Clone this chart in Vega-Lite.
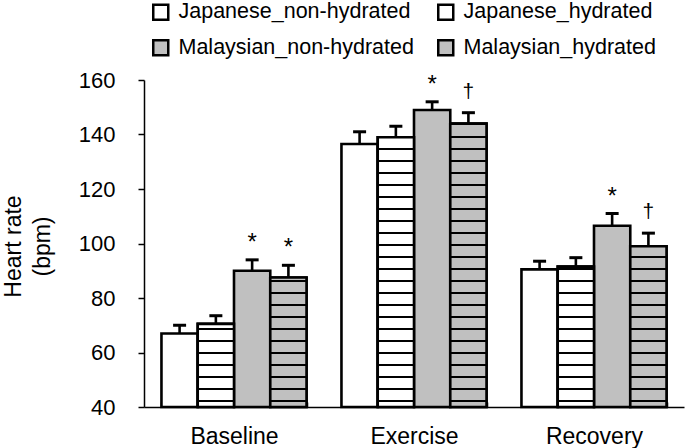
{
  "$schema": "https://vega.github.io/schema/vega-lite/v6.json",
  "width": 540,
  "height": 327,
  "autosize": "none",
  "padding": {"left": 144, "top": 80, "right": 1, "bottom": 41},
  "config": {
    "view": {"stroke": null},
    "font": "Liberation Sans",
    "axis": {"domainColor": "black", "tickColor": "black", "labelColor": "black", "titleColor": "black", "grid": false, "domainWidth": 1.5, "tickWidth": 1.5}
  },
  "data": {
    "values": [
      {"phase": "Baseline", "group": "Japanese_non-hydrated", "value": 67, "hi": 70, "sig": ""},
      {"phase": "Baseline", "group": "Japanese_hydrated", "value": 70.5, "hi": 73.5, "sig": ""},
      {"phase": "Baseline", "group": "Malaysian_non-hydrated", "value": 90, "hi": 94, "sig": "*"},
      {"phase": "Baseline", "group": "Malaysian_hydrated", "value": 87.5, "hi": 92, "sig": "*"},
      {"phase": "Exercise", "group": "Japanese_non-hydrated", "value": 136.5, "hi": 141, "sig": ""},
      {"phase": "Exercise", "group": "Japanese_hydrated", "value": 139, "hi": 143, "sig": ""},
      {"phase": "Exercise", "group": "Malaysian_non-hydrated", "value": 149, "hi": 152, "sig": "*"},
      {"phase": "Exercise", "group": "Malaysian_hydrated", "value": 144, "hi": 148, "sig": "†"},
      {"phase": "Recovery", "group": "Japanese_non-hydrated", "value": 90.5, "hi": 93.5, "sig": ""},
      {"phase": "Recovery", "group": "Japanese_hydrated", "value": 91.5, "hi": 94.8, "sig": ""},
      {"phase": "Recovery", "group": "Malaysian_non-hydrated", "value": 106.5, "hi": 111, "sig": "*"},
      {"phase": "Recovery", "group": "Malaysian_hydrated", "value": 99, "hi": 103.8, "sig": "†"}
    ]
  },
  "encoding": {
    "x": {
      "field": "phase", "type": "nominal", "sort": ["Baseline", "Exercise", "Recovery"],
      "scale": {"paddingInner": 0.194, "paddingOuter": 0.097},
      "axis": {"title": null, "labelAngle": 0, "labelFontSize": 23, "tickBand": "extent", "tickSize": -5, "labelPadding": 23}
    },
    "xOffset": {
      "field": "group", "type": "nominal",
      "sort": ["Japanese_non-hydrated", "Japanese_hydrated", "Malaysian_non-hydrated", "Malaysian_hydrated"],
      "scale": {"paddingInner": 0, "paddingOuter": 0}
    }
  },
  "layer": [
    {
      "mark": {"type": "bar", "stroke": "black", "strokeWidth": 2.6},
      "encoding": {
        "y": {
          "field": "value", "type": "quantitative",
          "scale": {"domain": [40, 160], "nice": false, "zero": false},
          "axis": {
            "values": [40, 60, 80, 100, 120, 140, 160], "tickSize": 6, "labelPadding": 23, "labelFontSize": 22,
            "title": ["Heart rate", "(bpm)"], "titleFontSize": 23, "titleFontWeight": "normal",
            "titleAngle": -90, "titleAlign": "center", "titleBaseline": "middle", "titleLineHeight": 29,
            "titleX": -131, "titleY": 166
          }
        },
        "y2": {"datum": 40},
        "fill": {
          "field": "group", "type": "nominal",
          "scale": {
            "domain": ["Japanese_non-hydrated", "Malaysian_non-hydrated", "Japanese_hydrated", "Malaysian_hydrated"],
            "range": ["#ffffff", "#c0c0c0", "#ffffff", "#c0c0c0"]
          },
          "legend": {
            "title": null, "orient": "none", "legendX": 6, "legendY": -79, "columns": 2,
            "columnPadding": 19, "rowPadding": 10, "symbolType": "square", "symbolSize": 225,
            "symbolStrokeColor": "black", "symbolStrokeWidth": 2.5, "symbolOpacity": 1,
            "labelFontSize": 21.5, "labelColor": "black", "labelOffset": 7, "labelLimit": 400
          }
        }
      }
    },
    {
      "transform": [{"filter": "datum.phase == 'Baseline' && datum.group == 'Japanese_hydrated'"}],
      "mark": {"type": "bar", "stroke": "black", "strokeWidth": 2.6,
        "fill": {"gradient": "linear", "x1": 0, "y1": 0, "x2": 0, "y2": 1, "stops": [
          {"offset": 0, "color": "#ffffff"},
          {"offset": 0.0471, "color": "#ffffff"}, {"offset": 0.0471, "color": "#000000"}, {"offset": 0.0759, "color": "#000000"}, {"offset": 0.0759, "color": "#ffffff"},
          {"offset": 0.1915, "color": "#ffffff"}, {"offset": 0.1915, "color": "#000000"}, {"offset": 0.2203, "color": "#000000"}, {"offset": 0.2203, "color": "#ffffff"},
          {"offset": 0.3359, "color": "#ffffff"}, {"offset": 0.3359, "color": "#000000"}, {"offset": 0.3647, "color": "#000000"}, {"offset": 0.3647, "color": "#ffffff"},
          {"offset": 0.4803, "color": "#ffffff"}, {"offset": 0.4803, "color": "#000000"}, {"offset": 0.5091, "color": "#000000"}, {"offset": 0.5091, "color": "#ffffff"},
          {"offset": 0.6247, "color": "#ffffff"}, {"offset": 0.6247, "color": "#000000"}, {"offset": 0.6535, "color": "#000000"}, {"offset": 0.6535, "color": "#ffffff"},
          {"offset": 0.7690, "color": "#ffffff"}, {"offset": 0.7690, "color": "#000000"}, {"offset": 0.7978, "color": "#000000"}, {"offset": 0.7978, "color": "#ffffff"},
          {"offset": 0.9134, "color": "#ffffff"}, {"offset": 0.9134, "color": "#000000"}, {"offset": 0.9422, "color": "#000000"}, {"offset": 0.9422, "color": "#ffffff"},
          {"offset": 1, "color": "#ffffff"}
        ]}},
      "encoding": {"y": {"field": "value", "type": "quantitative"}, "y2": {"datum": 40}}
    },
    {
      "transform": [{"filter": "datum.phase == 'Baseline' && datum.group == 'Malaysian_hydrated'"}],
      "mark": {"type": "bar", "stroke": "black", "strokeWidth": 2.6,
        "fill": {"gradient": "linear", "x1": 0, "y1": 0, "x2": 0, "y2": 1, "stops": [
          {"offset": 0, "color": "#c0c0c0"},
          {"offset": 0.0173, "color": "#c0c0c0"}, {"offset": 0.0173, "color": "#000000"}, {"offset": 0.0358, "color": "#000000"}, {"offset": 0.0358, "color": "#c0c0c0"},
          {"offset": 0.1100, "color": "#c0c0c0"}, {"offset": 0.1100, "color": "#000000"}, {"offset": 0.1286, "color": "#000000"}, {"offset": 0.1286, "color": "#c0c0c0"},
          {"offset": 0.2027, "color": "#c0c0c0"}, {"offset": 0.2027, "color": "#000000"}, {"offset": 0.2213, "color": "#000000"}, {"offset": 0.2213, "color": "#c0c0c0"},
          {"offset": 0.2954, "color": "#c0c0c0"}, {"offset": 0.2954, "color": "#000000"}, {"offset": 0.3140, "color": "#000000"}, {"offset": 0.3140, "color": "#c0c0c0"},
          {"offset": 0.3881, "color": "#c0c0c0"}, {"offset": 0.3881, "color": "#000000"}, {"offset": 0.4067, "color": "#000000"}, {"offset": 0.4067, "color": "#c0c0c0"},
          {"offset": 0.4808, "color": "#c0c0c0"}, {"offset": 0.4808, "color": "#000000"}, {"offset": 0.4994, "color": "#000000"}, {"offset": 0.4994, "color": "#c0c0c0"},
          {"offset": 0.5735, "color": "#c0c0c0"}, {"offset": 0.5735, "color": "#000000"}, {"offset": 0.5921, "color": "#000000"}, {"offset": 0.5921, "color": "#c0c0c0"},
          {"offset": 0.6663, "color": "#c0c0c0"}, {"offset": 0.6663, "color": "#000000"}, {"offset": 0.6848, "color": "#000000"}, {"offset": 0.6848, "color": "#c0c0c0"},
          {"offset": 0.7590, "color": "#c0c0c0"}, {"offset": 0.7590, "color": "#000000"}, {"offset": 0.7775, "color": "#000000"}, {"offset": 0.7775, "color": "#c0c0c0"},
          {"offset": 0.8517, "color": "#c0c0c0"}, {"offset": 0.8517, "color": "#000000"}, {"offset": 0.8702, "color": "#000000"}, {"offset": 0.8702, "color": "#c0c0c0"},
          {"offset": 0.9444, "color": "#c0c0c0"}, {"offset": 0.9444, "color": "#000000"}, {"offset": 0.9629, "color": "#000000"}, {"offset": 0.9629, "color": "#c0c0c0"},
          {"offset": 1, "color": "#c0c0c0"}
        ]}},
      "encoding": {"y": {"field": "value", "type": "quantitative"}, "y2": {"datum": 40}}
    },
    {
      "transform": [{"filter": "datum.phase == 'Exercise' && datum.group == 'Japanese_hydrated'"}],
      "mark": {"type": "bar", "stroke": "black", "strokeWidth": 2.6,
        "fill": {"gradient": "linear", "x1": 0, "y1": 0, "x2": 0, "y2": 1, "stops": [
          {"offset": 0, "color": "#ffffff"},
          {"offset": 0.0392, "color": "#ffffff"}, {"offset": 0.0392, "color": "#000000"}, {"offset": 0.0481, "color": "#000000"}, {"offset": 0.0481, "color": "#ffffff"},
          {"offset": 0.0837, "color": "#ffffff"}, {"offset": 0.0837, "color": "#000000"}, {"offset": 0.0926, "color": "#000000"}, {"offset": 0.0926, "color": "#ffffff"},
          {"offset": 0.1282, "color": "#ffffff"}, {"offset": 0.1282, "color": "#000000"}, {"offset": 0.1371, "color": "#000000"}, {"offset": 0.1371, "color": "#ffffff"},
          {"offset": 0.1727, "color": "#ffffff"}, {"offset": 0.1727, "color": "#000000"}, {"offset": 0.1815, "color": "#000000"}, {"offset": 0.1815, "color": "#ffffff"},
          {"offset": 0.2171, "color": "#ffffff"}, {"offset": 0.2171, "color": "#000000"}, {"offset": 0.2260, "color": "#000000"}, {"offset": 0.2260, "color": "#ffffff"},
          {"offset": 0.2616, "color": "#ffffff"}, {"offset": 0.2616, "color": "#000000"}, {"offset": 0.2705, "color": "#000000"}, {"offset": 0.2705, "color": "#ffffff"},
          {"offset": 0.3061, "color": "#ffffff"}, {"offset": 0.3061, "color": "#000000"}, {"offset": 0.3150, "color": "#000000"}, {"offset": 0.3150, "color": "#ffffff"},
          {"offset": 0.3506, "color": "#ffffff"}, {"offset": 0.3506, "color": "#000000"}, {"offset": 0.3595, "color": "#000000"}, {"offset": 0.3595, "color": "#ffffff"},
          {"offset": 0.3951, "color": "#ffffff"}, {"offset": 0.3951, "color": "#000000"}, {"offset": 0.4040, "color": "#000000"}, {"offset": 0.4040, "color": "#ffffff"},
          {"offset": 0.4395, "color": "#ffffff"}, {"offset": 0.4395, "color": "#000000"}, {"offset": 0.4484, "color": "#000000"}, {"offset": 0.4484, "color": "#ffffff"},
          {"offset": 0.4840, "color": "#ffffff"}, {"offset": 0.4840, "color": "#000000"}, {"offset": 0.4929, "color": "#000000"}, {"offset": 0.4929, "color": "#ffffff"},
          {"offset": 0.5285, "color": "#ffffff"}, {"offset": 0.5285, "color": "#000000"}, {"offset": 0.5374, "color": "#000000"}, {"offset": 0.5374, "color": "#ffffff"},
          {"offset": 0.5730, "color": "#ffffff"}, {"offset": 0.5730, "color": "#000000"}, {"offset": 0.5819, "color": "#000000"}, {"offset": 0.5819, "color": "#ffffff"},
          {"offset": 0.6175, "color": "#ffffff"}, {"offset": 0.6175, "color": "#000000"}, {"offset": 0.6264, "color": "#000000"}, {"offset": 0.6264, "color": "#ffffff"},
          {"offset": 0.6620, "color": "#ffffff"}, {"offset": 0.6620, "color": "#000000"}, {"offset": 0.6708, "color": "#000000"}, {"offset": 0.6708, "color": "#ffffff"},
          {"offset": 0.7064, "color": "#ffffff"}, {"offset": 0.7064, "color": "#000000"}, {"offset": 0.7153, "color": "#000000"}, {"offset": 0.7153, "color": "#ffffff"},
          {"offset": 0.7509, "color": "#ffffff"}, {"offset": 0.7509, "color": "#000000"}, {"offset": 0.7598, "color": "#000000"}, {"offset": 0.7598, "color": "#ffffff"},
          {"offset": 0.7954, "color": "#ffffff"}, {"offset": 0.7954, "color": "#000000"}, {"offset": 0.8043, "color": "#000000"}, {"offset": 0.8043, "color": "#ffffff"},
          {"offset": 0.8399, "color": "#ffffff"}, {"offset": 0.8399, "color": "#000000"}, {"offset": 0.8488, "color": "#000000"}, {"offset": 0.8488, "color": "#ffffff"},
          {"offset": 0.8844, "color": "#ffffff"}, {"offset": 0.8844, "color": "#000000"}, {"offset": 0.8932, "color": "#000000"}, {"offset": 0.8932, "color": "#ffffff"},
          {"offset": 0.9288, "color": "#ffffff"}, {"offset": 0.9288, "color": "#000000"}, {"offset": 0.9377, "color": "#000000"}, {"offset": 0.9377, "color": "#ffffff"},
          {"offset": 0.9733, "color": "#ffffff"}, {"offset": 0.9733, "color": "#000000"}, {"offset": 0.9822, "color": "#000000"}, {"offset": 0.9822, "color": "#ffffff"},
          {"offset": 1, "color": "#ffffff"}
        ]}},
      "encoding": {"y": {"field": "value", "type": "quantitative"}, "y2": {"datum": 40}}
    },
    {
      "transform": [{"filter": "datum.phase == 'Exercise' && datum.group == 'Malaysian_hydrated'"}],
      "mark": {"type": "bar", "stroke": "black", "strokeWidth": 2.6,
        "fill": {"gradient": "linear", "x1": 0, "y1": 0, "x2": 0, "y2": 1, "stops": [
          {"offset": 0, "color": "#c0c0c0"},
          {"offset": 0.0431, "color": "#c0c0c0"}, {"offset": 0.0431, "color": "#000000"}, {"offset": 0.0515, "color": "#000000"}, {"offset": 0.0515, "color": "#c0c0c0"},
          {"offset": 0.0854, "color": "#c0c0c0"}, {"offset": 0.0854, "color": "#000000"}, {"offset": 0.0939, "color": "#000000"}, {"offset": 0.0939, "color": "#c0c0c0"},
          {"offset": 0.1277, "color": "#c0c0c0"}, {"offset": 0.1277, "color": "#000000"}, {"offset": 0.1362, "color": "#000000"}, {"offset": 0.1362, "color": "#c0c0c0"},
          {"offset": 0.1701, "color": "#c0c0c0"}, {"offset": 0.1701, "color": "#000000"}, {"offset": 0.1786, "color": "#000000"}, {"offset": 0.1786, "color": "#c0c0c0"},
          {"offset": 0.2124, "color": "#c0c0c0"}, {"offset": 0.2124, "color": "#000000"}, {"offset": 0.2209, "color": "#000000"}, {"offset": 0.2209, "color": "#c0c0c0"},
          {"offset": 0.2548, "color": "#c0c0c0"}, {"offset": 0.2548, "color": "#000000"}, {"offset": 0.2632, "color": "#000000"}, {"offset": 0.2632, "color": "#c0c0c0"},
          {"offset": 0.2971, "color": "#c0c0c0"}, {"offset": 0.2971, "color": "#000000"}, {"offset": 0.3056, "color": "#000000"}, {"offset": 0.3056, "color": "#c0c0c0"},
          {"offset": 0.3395, "color": "#c0c0c0"}, {"offset": 0.3395, "color": "#000000"}, {"offset": 0.3479, "color": "#000000"}, {"offset": 0.3479, "color": "#c0c0c0"},
          {"offset": 0.3818, "color": "#c0c0c0"}, {"offset": 0.3818, "color": "#000000"}, {"offset": 0.3903, "color": "#000000"}, {"offset": 0.3903, "color": "#c0c0c0"},
          {"offset": 0.4241, "color": "#c0c0c0"}, {"offset": 0.4241, "color": "#000000"}, {"offset": 0.4326, "color": "#000000"}, {"offset": 0.4326, "color": "#c0c0c0"},
          {"offset": 0.4665, "color": "#c0c0c0"}, {"offset": 0.4665, "color": "#000000"}, {"offset": 0.4750, "color": "#000000"}, {"offset": 0.4750, "color": "#c0c0c0"},
          {"offset": 0.5088, "color": "#c0c0c0"}, {"offset": 0.5088, "color": "#000000"}, {"offset": 0.5173, "color": "#000000"}, {"offset": 0.5173, "color": "#c0c0c0"},
          {"offset": 0.5512, "color": "#c0c0c0"}, {"offset": 0.5512, "color": "#000000"}, {"offset": 0.5596, "color": "#000000"}, {"offset": 0.5596, "color": "#c0c0c0"},
          {"offset": 0.5935, "color": "#c0c0c0"}, {"offset": 0.5935, "color": "#000000"}, {"offset": 0.6020, "color": "#000000"}, {"offset": 0.6020, "color": "#c0c0c0"},
          {"offset": 0.6359, "color": "#c0c0c0"}, {"offset": 0.6359, "color": "#000000"}, {"offset": 0.6443, "color": "#000000"}, {"offset": 0.6443, "color": "#c0c0c0"},
          {"offset": 0.6782, "color": "#c0c0c0"}, {"offset": 0.6782, "color": "#000000"}, {"offset": 0.6867, "color": "#000000"}, {"offset": 0.6867, "color": "#c0c0c0"},
          {"offset": 0.7205, "color": "#c0c0c0"}, {"offset": 0.7205, "color": "#000000"}, {"offset": 0.7290, "color": "#000000"}, {"offset": 0.7290, "color": "#c0c0c0"},
          {"offset": 0.7629, "color": "#c0c0c0"}, {"offset": 0.7629, "color": "#000000"}, {"offset": 0.7713, "color": "#000000"}, {"offset": 0.7713, "color": "#c0c0c0"},
          {"offset": 0.8052, "color": "#c0c0c0"}, {"offset": 0.8052, "color": "#000000"}, {"offset": 0.8137, "color": "#000000"}, {"offset": 0.8137, "color": "#c0c0c0"},
          {"offset": 0.8476, "color": "#c0c0c0"}, {"offset": 0.8476, "color": "#000000"}, {"offset": 0.8560, "color": "#000000"}, {"offset": 0.8560, "color": "#c0c0c0"},
          {"offset": 0.8899, "color": "#c0c0c0"}, {"offset": 0.8899, "color": "#000000"}, {"offset": 0.8984, "color": "#000000"}, {"offset": 0.8984, "color": "#c0c0c0"},
          {"offset": 0.9323, "color": "#c0c0c0"}, {"offset": 0.9323, "color": "#000000"}, {"offset": 0.9407, "color": "#000000"}, {"offset": 0.9407, "color": "#c0c0c0"},
          {"offset": 0.9746, "color": "#c0c0c0"}, {"offset": 0.9746, "color": "#000000"}, {"offset": 0.9831, "color": "#000000"}, {"offset": 0.9831, "color": "#c0c0c0"},
          {"offset": 1, "color": "#c0c0c0"}
        ]}},
      "encoding": {"y": {"field": "value", "type": "quantitative"}, "y2": {"datum": 40}}
    },
    {
      "transform": [{"filter": "datum.phase == 'Recovery' && datum.group == 'Japanese_hydrated'"}],
      "mark": {"type": "bar", "stroke": "black", "strokeWidth": 2.6,
        "fill": {"gradient": "linear", "x1": 0, "y1": 0, "x2": 0, "y2": 1, "stops": [
          {"offset": 0, "color": "#ffffff"},
          {"offset": 0.0081, "color": "#ffffff"}, {"offset": 0.0081, "color": "#000000"}, {"offset": 0.0252, "color": "#000000"}, {"offset": 0.0252, "color": "#ffffff"},
          {"offset": 0.0936, "color": "#ffffff"}, {"offset": 0.0936, "color": "#000000"}, {"offset": 0.1107, "color": "#000000"}, {"offset": 0.1107, "color": "#ffffff"},
          {"offset": 0.1791, "color": "#ffffff"}, {"offset": 0.1791, "color": "#000000"}, {"offset": 0.1962, "color": "#000000"}, {"offset": 0.1962, "color": "#ffffff"},
          {"offset": 0.2646, "color": "#ffffff"}, {"offset": 0.2646, "color": "#000000"}, {"offset": 0.2817, "color": "#000000"}, {"offset": 0.2817, "color": "#ffffff"},
          {"offset": 0.3501, "color": "#ffffff"}, {"offset": 0.3501, "color": "#000000"}, {"offset": 0.3673, "color": "#000000"}, {"offset": 0.3673, "color": "#ffffff"},
          {"offset": 0.4357, "color": "#ffffff"}, {"offset": 0.4357, "color": "#000000"}, {"offset": 0.4528, "color": "#000000"}, {"offset": 0.4528, "color": "#ffffff"},
          {"offset": 0.5212, "color": "#ffffff"}, {"offset": 0.5212, "color": "#000000"}, {"offset": 0.5383, "color": "#000000"}, {"offset": 0.5383, "color": "#ffffff"},
          {"offset": 0.6067, "color": "#ffffff"}, {"offset": 0.6067, "color": "#000000"}, {"offset": 0.6238, "color": "#000000"}, {"offset": 0.6238, "color": "#ffffff"},
          {"offset": 0.6922, "color": "#ffffff"}, {"offset": 0.6922, "color": "#000000"}, {"offset": 0.7093, "color": "#000000"}, {"offset": 0.7093, "color": "#ffffff"},
          {"offset": 0.7777, "color": "#ffffff"}, {"offset": 0.7777, "color": "#000000"}, {"offset": 0.7948, "color": "#000000"}, {"offset": 0.7948, "color": "#ffffff"},
          {"offset": 0.8632, "color": "#ffffff"}, {"offset": 0.8632, "color": "#000000"}, {"offset": 0.8803, "color": "#000000"}, {"offset": 0.8803, "color": "#ffffff"},
          {"offset": 0.9487, "color": "#ffffff"}, {"offset": 0.9487, "color": "#000000"}, {"offset": 0.9658, "color": "#000000"}, {"offset": 0.9658, "color": "#ffffff"},
          {"offset": 1, "color": "#ffffff"}
        ]}},
      "encoding": {"y": {"field": "value", "type": "quantitative"}, "y2": {"datum": 40}}
    },
    {
      "transform": [{"filter": "datum.phase == 'Recovery' && datum.group == 'Malaysian_hydrated'"}],
      "mark": {"type": "bar", "stroke": "black", "strokeWidth": 2.6,
        "fill": {"gradient": "linear", "x1": 0, "y1": 0, "x2": 0, "y2": 1, "stops": [
          {"offset": 0, "color": "#c0c0c0"},
          {"offset": 0.0596, "color": "#c0c0c0"}, {"offset": 0.0596, "color": "#000000"}, {"offset": 0.0745, "color": "#000000"}, {"offset": 0.0745, "color": "#c0c0c0"},
          {"offset": 0.1342, "color": "#c0c0c0"}, {"offset": 0.1342, "color": "#000000"}, {"offset": 0.1492, "color": "#000000"}, {"offset": 0.1492, "color": "#c0c0c0"},
          {"offset": 0.2089, "color": "#c0c0c0"}, {"offset": 0.2089, "color": "#000000"}, {"offset": 0.2238, "color": "#000000"}, {"offset": 0.2238, "color": "#c0c0c0"},
          {"offset": 0.2835, "color": "#c0c0c0"}, {"offset": 0.2835, "color": "#000000"}, {"offset": 0.2984, "color": "#000000"}, {"offset": 0.2984, "color": "#c0c0c0"},
          {"offset": 0.3581, "color": "#c0c0c0"}, {"offset": 0.3581, "color": "#000000"}, {"offset": 0.3731, "color": "#000000"}, {"offset": 0.3731, "color": "#c0c0c0"},
          {"offset": 0.4328, "color": "#c0c0c0"}, {"offset": 0.4328, "color": "#000000"}, {"offset": 0.4477, "color": "#000000"}, {"offset": 0.4477, "color": "#c0c0c0"},
          {"offset": 0.5074, "color": "#c0c0c0"}, {"offset": 0.5074, "color": "#000000"}, {"offset": 0.5224, "color": "#000000"}, {"offset": 0.5224, "color": "#c0c0c0"},
          {"offset": 0.5820, "color": "#c0c0c0"}, {"offset": 0.5820, "color": "#000000"}, {"offset": 0.5970, "color": "#000000"}, {"offset": 0.5970, "color": "#c0c0c0"},
          {"offset": 0.6567, "color": "#c0c0c0"}, {"offset": 0.6567, "color": "#000000"}, {"offset": 0.6716, "color": "#000000"}, {"offset": 0.6716, "color": "#c0c0c0"},
          {"offset": 0.7313, "color": "#c0c0c0"}, {"offset": 0.7313, "color": "#000000"}, {"offset": 0.7462, "color": "#000000"}, {"offset": 0.7462, "color": "#c0c0c0"},
          {"offset": 0.8059, "color": "#c0c0c0"}, {"offset": 0.8059, "color": "#000000"}, {"offset": 0.8209, "color": "#000000"}, {"offset": 0.8209, "color": "#c0c0c0"},
          {"offset": 0.8806, "color": "#c0c0c0"}, {"offset": 0.8806, "color": "#000000"}, {"offset": 0.8955, "color": "#000000"}, {"offset": 0.8955, "color": "#c0c0c0"},
          {"offset": 0.9552, "color": "#c0c0c0"}, {"offset": 0.9552, "color": "#000000"}, {"offset": 0.9702, "color": "#000000"}, {"offset": 0.9702, "color": "#c0c0c0"},
          {"offset": 1, "color": "#c0c0c0"}
        ]}},
      "encoding": {"y": {"field": "value", "type": "quantitative"}, "y2": {"datum": 40}}
    },
    {
      "mark": {"type": "rule", "color": "black", "strokeWidth": 2.6},
      "encoding": {"y": {"field": "value", "type": "quantitative"}, "y2": {"field": "hi"}}
    },
    {
      "mark": {"type": "tick", "color": "black", "size": 13, "thickness": 3, "opacity": 1},
      "encoding": {"y": {"field": "hi", "type": "quantitative"}}
    },
    {
      "transform": [{"filter": "datum.sig == '*'"}],
      "mark": {"type": "text", "fontSize": 24, "dy": -10, "baseline": "alphabetic", "align": "center", "color": "black"},
      "encoding": {"y": {"field": "hi", "type": "quantitative"}, "text": {"field": "sig"}}
    },
    {
      "transform": [{"filter": "datum.sig == '†'"}],
      "mark": {"type": "text", "fontSize": 21, "dy": -15, "baseline": "alphabetic", "align": "center", "color": "black"},
      "encoding": {"y": {"field": "hi", "type": "quantitative"}, "text": {"field": "sig"}}
    }
  ]
}
